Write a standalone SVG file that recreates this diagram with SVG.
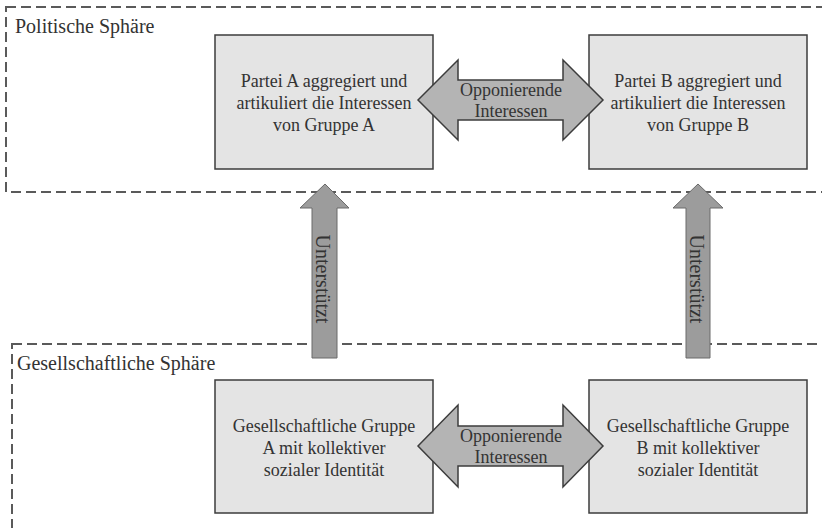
<svg xmlns="http://www.w3.org/2000/svg" width="822" height="528" viewBox="0 0 822 528">
<style>
.zone{fill:none;stroke:#5a5a5a;stroke-width:2;stroke-dasharray:10 5}
.box{fill:#e4e4e4;stroke:#3c3c3c;stroke-width:1.5}
.dbl{fill:#b4b4b4;stroke:#3c3c3c;stroke-width:1.5;stroke-linejoin:miter}
.up{fill:#9c9c9c;stroke:#6a6a6a;stroke-width:1}
.t{font-family:'Liberation Serif','DejaVu Serif','Times New Roman',serif;font-size:18px;fill:#333}
.z{font-size:20px}
.c{text-anchor:middle}
</style>
<rect fill="#fff" width="822" height="528"/>
<g id="zone-politisch">
<rect class="zone" x="6" y="7" width="830" height="185"/>
<text class="t z" x="15" y="33">Politische Sphäre</text>
</g>
<g id="zone-gesellschaft">
<rect class="zone" x="12" y="344" width="830" height="200"/>
<text class="t z" x="17" y="370">Gesellschaftliche Sphäre</text>
</g>
<g id="partei-a">
<rect class="box" x="215" y="35" width="218" height="134"/>
<text class="t c" x="324" y="87">Partei A aggregiert und</text>
<text class="t c" x="324" y="109">artikuliert die Interessen</text>
<text class="t c" x="324" y="131">von Gruppe A</text>
</g>
<g id="partei-b">
<rect class="box" x="589" y="35" width="218" height="134"/>
<text class="t c" x="698" y="87">Partei B aggregiert und</text>
<text class="t c" x="698" y="109">artikuliert die Interessen</text>
<text class="t c" x="698" y="131">von Gruppe B</text>
</g>
<g id="gruppe-a">
<rect class="box" x="215" y="380" width="218" height="133"/>
<text class="t c" x="324" y="432">Gesellschaftliche Gruppe</text>
<text class="t c" x="324" y="454">A mit kollektiver</text>
<text class="t c" x="324" y="476">sozialer Identität</text>
</g>
<g id="gruppe-b">
<rect class="box" x="589" y="380" width="218" height="133"/>
<text class="t c" x="698" y="432">Gesellschaftliche Gruppe</text>
<text class="t c" x="698" y="454">B mit kollektiver</text>
<text class="t c" x="698" y="476">sozialer Identität</text>
</g>
<g id="connectors">
<g id="opp-top">
<path class="dbl" d="M418 100 L458 60 L458 80 L563 80 L563 60 L603 100 L563 140 L563 120 L458 120 L458 140 Z"/>
<text class="t c" x="511" y="96">Opponierende</text>
<text class="t c" x="511" y="117">Interessen</text>
</g>
<g id="opp-bottom">
<path class="dbl" d="M418 446 L458 405 L458 426 L563 426 L563 405 L603 446 L563 487 L563 466 L458 466 L458 487 Z"/>
<text class="t c" x="511" y="442">Opponierende</text>
<text class="t c" x="511" y="463">Interessen</text>
</g>
<g id="support-a">
<path class="up" d="M325 184 L349 208 L337 208 L337 358 L312 358 L312 208 L300 208 Z"/>
<text class="t c z" transform="translate(316 279) rotate(90)">Unterstützt</text>
</g>
<g id="support-b">
<path class="up" d="M698 184 L723 208 L710 208 L710 358 L686 358 L686 208 L673 208 Z"/>
<text class="t c z" transform="translate(690 279) rotate(90)">Unterstützt</text>
</g>
</g>
</svg>
